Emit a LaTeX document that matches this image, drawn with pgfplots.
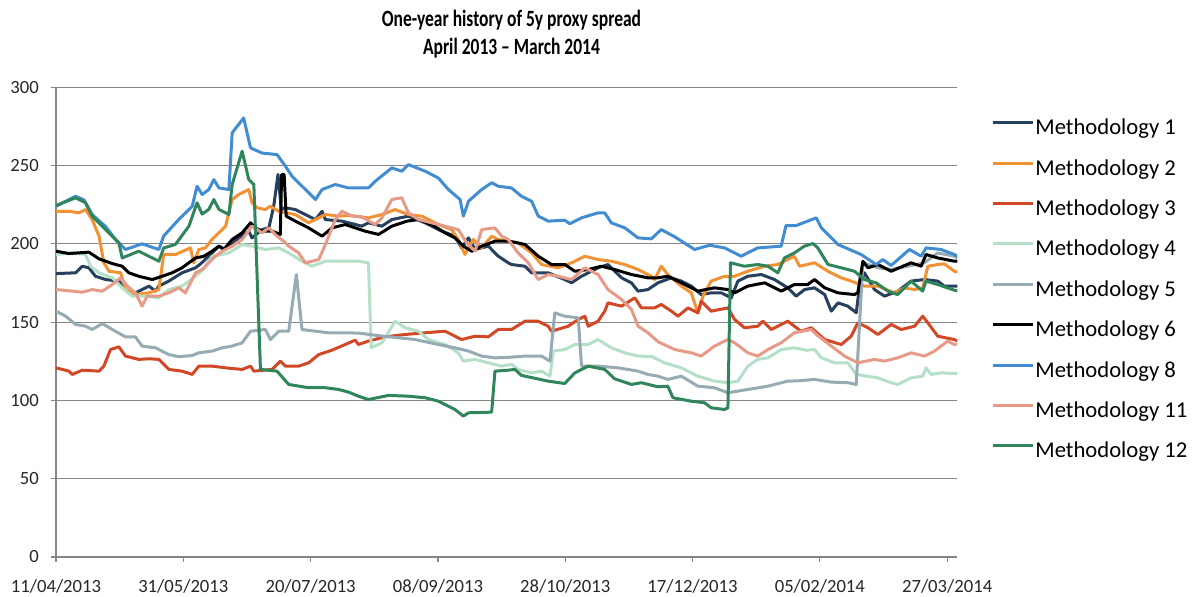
\documentclass[border=0pt]{standalone}
\usepackage{graphicx}
\usepackage{pgfplots}
\pgfplotsset{compat=1.18}
\usepackage{fontspec}
\setmainfont{Carlito}
\definecolor{cM1}{RGB}{38,64,94}
\definecolor{cM2}{RGB}{241,146,52}
\definecolor{cM3}{RGB}{209,72,38}
\definecolor{cM4}{RGB}{180,224,200}
\definecolor{cM5}{RGB}{151,171,181}
\definecolor{cM6}{RGB}{0,0,0}
\definecolor{cM8}{RGB}{66,140,210}
\definecolor{cM11}{RGB}{231,154,135}
\definecolor{cM12}{RGB}{49,133,90}
\definecolor{gridc}{RGB}{134,134,134}
\begin{document}
\begin{tikzpicture}
\useasboundingbox (-42pt,-29.25pt) rectangle (857.25pt,417.75pt);
\begin{axis}[
  at={(0pt,0pt)}, anchor=south west,
  scale only axis, width=676pt, height=352.3pt,
  xmin=0, xmax=354, ymin=0, ymax=300,
  axis x line*=bottom, axis y line*=left,
  axis line style={gridc, line width=0.9pt},
  xtick={0,50,100,150,200,250,300,350},
  xticklabels={11/04/2013,31/05/2013,20/07/2013,08/09/2013,28/10/2013,17/12/2013,05/02/2014,27/03/2014},
  ytick={0,50,100,150,200,250,300},
  ymajorgrids, major grid style={gridc, line width=0.9pt},
  tick align=outside, major tick length=4pt,
  tick style={gridc, line width=0.9pt},
  /pgf/number format/assume math mode=true,
  ticklabel style={font=\fontsize{14}{16}\selectfont, text=black!85},
  xticklabel style={anchor=base, yshift=-22.5pt, inner sep=0pt},
  yticklabel style={anchor=east, inner sep=0pt, xshift=-8.75pt},
  legend style={at={(1.0374,0.936)}, anchor=north west, draw=none, fill=none,
    inner sep=0pt, outer sep=0pt, row sep=13.3pt, column sep=1pt,
    font=\fontsize{17}{20}\selectfont,
    nodes={inner sep=0pt, text height=13pt, text depth=4pt}},
  legend cell align=left,
  legend image code/.code={\draw[#1, line width=2.25pt] (0pt,4.5pt) -- (30pt,4.5pt);},
  every axis plot/.append style={line width=2.25pt, line join=round, no markers},
]
\addplot[cM1] coordinates {(0,181) (7.7,181.5) (10.3,185.7) (12.9,184.7) (15.5,179.3) (19.5,177.2) (24.7,176.2) (27.3,170.8) (29.9,167.6) (33.8,170.8) (36.5,173) (39.1,169.8) (40.4,173) (44.3,176.2) (49.5,181.5) (54.8,184.7) (57,187.5) (60,192.1) (64,198.5) (66.6,196.4) (69.2,200.6) (71.8,203.8) (75.7,208.1) (77,203.8) (80.9,209.1) (83.6,210.2) (85.5,224) (87.2,244.3) (88.5,221.9) (90.1,223) (94,221.9) (97.9,218.7) (101.9,215.5) (104.5,220.8) (105.8,215.5) (112.3,214.5) (116,213) (120.1,211.3) (122.7,213.4) (128,211.3) (131.9,215.5) (138.4,217.7) (145,213.4) (151.5,208.1) (156.7,204.9) (159.3,197.4) (162,203.8) (164.6,196.4) (169.8,198.5) (173.7,192.1) (177.6,187.9) (178.9,186.8) (184.2,185.7) (186.8,181.5) (193.3,181.5) (199.8,177.2) (202.5,175.1) (206.4,179.3) (212.9,184.7) (216.8,186.8) (222.1,178.3) (226,175.1) (228.6,169.8) (232.5,170.8) (236.4,175.1) (241.7,178.3) (245.6,176.2) (249.5,173) (253.4,167.6) (257.3,168.7) (261.3,168.7) (265.2,165.5) (267.8,176.2) (271.7,179.3) (277,180.4) (282.2,177.2) (287.4,171.9) (290.7,166.6) (294,170.8) (297.9,171.9) (301.9,167.6) (304.5,157) (307.1,162.3) (311,160.2) (314.3,156) (315.6,173) (317.5,181.5) (321.5,170.8) (325.4,166.6) (330.6,169.8) (335.8,176.2) (341.1,177.2) (346.3,176.2) (348.9,173) (352.8,173) (354,173)};
\addlegendentry{Methodology 1}
\addplot[cM2] coordinates {(0,220.8) (5.1,220.8) (9,219.8) (11.6,221.9) (14.2,215.5) (16.9,204.9) (18.8,187.9) (20.8,182.5) (25.4,181.5) (27.3,170.8) (31.2,167.6) (36.5,168.7) (40.4,170.8) (42.3,193.2) (46.9,193.2) (52.8,197.4) (54.1,187.9) (56.1,196.4) (58.7,197.4) (61.3,202.8) (66.6,211.3) (69.2,228.3) (71.8,231.5) (75.7,234.7) (77,226.2) (79,223) (82.2,221.9) (84.2,224) (87.5,220.8) (94,218.7) (99.2,213.4) (105.8,218.7) (111,217.7) (114.9,218.1) (122.7,216.6) (128,218.7) (133.2,221.9) (138.4,218.7) (143.7,217.7) (150.2,212.3) (155.4,209.1) (158,202.8) (160.6,193.2) (163.9,202.8) (167.2,197.4) (171.1,204.9) (173.7,202.8) (181.5,200.6) (186.8,194.2) (190.7,186.8) (197.2,184.7) (202.5,187.9) (207.7,192.1) (212.9,190) (218.1,188.9) (223.4,186.8) (228.6,183.6) (233.8,179.3) (235.1,177.2) (237.7,185.7) (240.3,180.4) (245.6,173) (249.5,168.7) (252.1,155.9) (254.1,166.6) (257.3,176.2) (262.6,179.3) (266.5,179.3) (271.7,182.5) (278.3,185.7) (283.5,186.8) (287.4,190) (290,192.1) (292,185.7) (297.9,187.9) (303.2,182.5) (308.4,178.3) (312.3,176.2) (317.5,173) (322.8,173) (329.3,168.7) (333.2,171.9) (337.2,170.8) (340.4,171.9) (342.4,185.7) (346.3,186.8) (348.9,187.2) (352.8,182.5) (354,182)};
\addlegendentry{Methodology 2}
\addplot[cM3] coordinates {(0,120.8) (5.1,118.7) (6.4,116.6) (10.3,119.3) (16.9,118.7) (18.8,121.9) (21.4,132.5) (24.7,134.2) (27.3,128.3) (32.5,126.2) (36.5,126.6) (40.4,126.2) (44.3,119.8) (49.5,118.7) (53.5,116.6) (56.1,121.9) (61.3,121.9) (66.6,120.8) (73.1,119.8) (76.4,121.9) (77.7,118.7) (84.9,119.8) (88.1,125.1) (90.1,121.9) (95.3,121.9) (99.2,124) (103.2,129.3) (108.4,132.1) (113.6,135.7) (117.5,138.5) (118.8,135.7) (122.7,137.9) (129.3,140.6) (137.1,142.1) (145,143.2) (152.8,144.2) (159.3,138.9) (164.6,141) (169.8,140.6) (173.7,145.3) (178.9,145.3) (184.2,150.6) (189.4,150.6) (193.3,147.4) (194.6,144.2) (201.2,147.4) (205.1,151.7) (207.7,153.8) (209,147.4) (212.9,150.6) (215.5,157) (216.8,162.3) (222.1,160.2) (227.3,165.5) (229.9,159.1) (235.1,159.1) (237.7,161.3) (241.7,157) (244.3,153.8) (248.2,159.1) (252.1,155.9) (253.4,163.4) (257.3,157) (263.9,159.1) (266.5,151.7) (270.4,146.4) (275.6,147.4) (277.6,150.6) (280.9,145.3) (287.4,150.6) (292.6,144.2) (296.6,146.4) (301.9,138.9) (308.4,135.7) (312.3,141) (314.9,149.6) (318.9,146.4) (322.8,142.1) (328,148.5) (332,145.3) (337.2,147.4) (340.4,153.8) (342.4,149.6) (346.3,141) (352.8,138.9) (354,138)};
\addlegendentry{Methodology 3}
\addplot[cM4] coordinates {(0,193.2) (6.4,194.2) (11.6,193.2) (13.6,185.7) (16.9,181.5) (22.1,178.3) (26,171.9) (29.9,166.6) (35.2,166.6) (40.4,165.5) (44.3,170.8) (49.5,173) (54.8,179.3) (58,184) (61.3,192.1) (65.3,193.2) (67.9,194.2) (73.1,199.6) (77,198.5) (82.2,196.4) (87.5,197.4) (91.4,194.2) (96.6,188.9) (100.5,185.7) (105.8,188.9) (112.3,188.9) (118.8,188.9) (122.7,187.9) (123.8,133.6) (128,136.8) (133.2,150.6) (137.1,146.4) (142.3,144.2) (146.3,138.9) (152.8,135.7) (158,130.4) (160,125.1) (164.6,126.2) (169.8,124) (175,121.9) (178.9,123) (181.5,119.8) (186.8,117.6) (190.7,118.7) (194,115.5) (195.3,131.5) (199.8,132.5) (203.8,135.7) (209,135.7) (212.9,138.9) (218.1,133.6) (223.4,130.4) (228.6,128.3) (234,128) (239,124) (245.6,120.8) (252.1,115.5) (258.6,112.3) (263.9,111.3) (267.8,112.3) (271.7,121.9) (275.6,126.2) (279.6,127.2) (284.8,132.5) (290,133.6) (295,132) (297.9,132.5) (300.6,127.2) (305.8,124) (311,124) (314.3,116.6) (322.8,114.4) (328,111.3) (330.6,110.2) (335.8,114.4) (340.4,115.5) (341.7,120.8) (343.7,116.6) (347.6,117.6) (352.8,117.2) (354,117)};
\addlegendentry{Methodology 4}
\addplot[cM5] coordinates {(0,157) (3.8,153.8) (7.7,148.5) (11.6,147.4) (14.2,145.3) (18.2,149.1) (22.1,145.3) (27.3,140.6) (31.2,140.6) (33.8,134.7) (39.1,133.6) (44.3,129.3) (48.2,127.9) (53.5,128.7) (56.1,130.4) (61.3,131.5) (65.3,133.6) (69.2,134.7) (73.1,136.8) (76.4,144.2) (82.2,145.3) (84.2,138.9) (87.5,144.2) (91.4,144.2) (94.4,180.4) (96.6,145.3) (101.9,144.2) (107.1,143.2) (112.3,143.2) (118.8,143) (128,141.1) (141,138.9) (150.2,135.7) (156.7,133.6) (162,131.5) (167.2,128.3) (172.4,127.2) (177.6,127.5) (184.2,128.3) (190.7,128.3) (194,125.1) (195.9,155.9) (199.8,153.8) (205.1,152.7) (206.4,121.9) (212.9,121.9) (220.8,120.8) (228.6,118.7) (232.5,116.6) (236.4,115.5) (240.3,113.4) (245.6,115.5) (252.1,109.1) (258.6,108.1) (263.9,104.9) (271.7,107) (279.6,109.1) (287.4,112.3) (291.4,112.5) (297.9,113.4) (304.5,111.7) (311,111.3) (314.3,110.2) (316.9,187.9) (322.8,184.7) (328,183.6) (334.5,185.7) (341.1,187.9) (346.3,194.2) (352.8,192.1) (354,191)};
\addlegendentry{Methodology 5}
\addplot[cM6] coordinates {(0,195.3) (5.1,193.8) (12.9,194.7) (16.9,190.4) (22.1,187.4) (26,185.7) (28.6,181.5) (32.5,179.3) (37.8,177.2) (41.7,179.3) (45.6,181.5) (49.5,184.7) (54.8,191) (58,192) (61.3,195.3) (64,198.5) (65.9,196.4) (69.2,202.8) (73.1,207) (76.4,213.4) (78.3,210.2) (80.9,208.1) (84.9,208.1) (88.1,206) (88.6,244.3) (89.6,244.3) (90.4,217.7) (94,214.5) (99.2,210.2) (104.5,204.9) (108.4,210.2) (113.6,212.3) (116,211) (121.4,208.1) (126.7,206) (131.9,211.3) (137.8,214.5) (142.3,215.5) (147.6,212.3) (152.8,207) (156.7,203.8) (160,198.5) (163.3,195.3) (167.2,198.5) (172.4,201.7) (177.6,201.7) (180.2,201) (184.2,199.6) (189.4,192.1) (194.6,186.8) (199.8,186.8) (203.8,182.5) (209,183.6) (214.2,185.7) (219.4,183.6) (226,180.4) (232.5,178.3) (236.4,178.3) (240.3,179.3) (245.6,175.1) (252.1,169.8) (258.6,171.9) (263.9,170.8) (266.5,168.7) (271.7,173) (278.3,175.1) (284.8,169.8) (290,174) (295.2,174) (297.9,177.2) (301.9,171.9) (307.1,168.7) (313.6,167.6) (314.9,168.7) (316.9,188.9) (318.9,184.7) (322.8,186.8) (328,182.5) (335.8,187.9) (339.8,185.7) (341.7,193.2) (346.3,191) (352.8,188.9) (354,189)};
\addlegendentry{Methodology 6}
\addplot[cM8] coordinates {(0,224) (7.7,230.4) (11,228) (14.2,218.7) (19.5,211) (23.4,202.8) (27.3,196.4) (33.8,200) (40.4,196.4) (42.3,205) (48.2,215.5) (53.5,224) (55.4,236.8) (57.4,231.5) (60,234.7) (62,241) (64,235.7) (67.9,234.7) (69.2,270.9) (73.7,280.4) (76.4,261.3) (80.9,258) (86.8,257) (90.1,249.6) (92.7,243.2) (101.9,228.3) (104.5,234.7) (109.7,237.9) (114.9,235.7) (122.7,235.7) (125.4,240) (131.9,248.5) (135.8,246.4) (138.4,250.6) (145,246.4) (150.2,242) (154.1,234.7) (158.7,228.3) (160,217.7) (162,227.2) (167.2,234.7) (171.1,239) (173.7,236.8) (178.9,235.7) (182.8,230.4) (186.8,227.2) (189.4,217.7) (193.3,214.5) (199.8,215.1) (201.8,212.8) (206.4,216.6) (212.9,219.8) (215.5,219.8) (218.1,213.4) (223.4,210.2) (228.6,203.8) (233.8,203.2) (237.7,209.1) (243,204.5) (250.8,196.4) (256.7,199.1) (262.6,197.4) (269.1,192.1) (275.6,197.4) (284.8,198.5) (286.7,211.7) (290.7,211.7) (295.2,214.5) (298.6,216.6) (300.6,210.2) (307.1,199.6) (316.2,193.2) (322.1,186.8) (324.7,190) (328,186.2) (335.2,196.4) (339.8,192.1) (341.7,197.4) (347.6,196.4) (352.8,193.2) (354,192)};
\addlegendentry{Methodology 8}
\addplot[cM11] coordinates {(0,170.8) (6.4,169.8) (10.3,169.1) (14.2,170.8) (18.2,169.8) (22.1,174) (25.4,178.3) (28,173) (31.2,168.7) (33.8,160.2) (35.8,166.6) (40.4,166.6) (44.3,168.7) (48.2,171.9) (50.8,168.7) (54.8,181.5) (57.4,183.6) (60,187.9) (62.6,192.1) (65.3,195.3) (69.2,198.5) (73.1,202.8) (77,211.3) (80.9,207) (83.6,210.2) (86.8,204.9) (89.4,201.7) (91.4,198.5) (95.3,194.2) (97.9,187.9) (100.5,188.9) (103.2,190) (105.8,199.6) (109.7,215.5) (112.3,220.8) (116,218) (120.1,217.2) (125.4,212.3) (128,216.6) (131.9,228.3) (135.8,229.4) (138.4,219.8) (142.3,215.5) (147.6,213.4) (152.8,211.3) (158,209.1) (161.3,200.6) (164.6,195.3) (167.2,209.1) (172.4,210.2) (175,204.9) (177.6,202.8) (181.5,194.2) (185.5,187.9) (189.4,177.2) (193.3,180.4) (197.2,179.3) (202.5,177.2) (207.7,184.7) (212.9,180.4) (216.8,170.8) (222.1,164.5) (226,158.1) (228.6,147.4) (232.5,143.2) (236.4,137.5) (243,132.5) (249.5,130.4) (253.4,128.3) (258.6,134.7) (263.9,138.9) (266.5,136.8) (271.7,130.4) (275.6,128.3) (279.6,132.5) (284.8,136.8) (290,143.2) (296.6,145.3) (298.6,142.1) (304.5,134.7) (309.7,128.3) (314.9,124) (321.5,126.2) (325.4,125.1) (330.6,127.2) (335.8,130.4) (341.1,128.3) (345,131.5) (350.2,137.9) (352.8,135.7) (354,136)};
\addlegendentry{Methodology 11}
\addplot[cM12] coordinates {(0,224.5) (7.7,229.4) (11.6,226.2) (14.2,217.7) (20.1,208.1) (24.7,200.6) (26,191) (32.5,195.3) (40.4,188.9) (42.3,197.4) (46.9,199.6) (52.2,211.3) (55.4,226.2) (57.4,219) (60,222) (62,228.3) (64,222) (67.9,218.7) (69.2,237.9) (73.1,259.2) (75.7,241.1) (77.7,237.9) (80.3,119.8) (86.8,118.7) (91.4,110.2) (99.2,108.1) (105.8,108.1) (111,107) (114.9,105.3) (118.8,102.7) (122.7,100.6) (130.6,103.2) (138.4,102.7) (145,101.7) (150.2,99.5) (156.7,94.2) (160,90) (162,92.1) (171.1,92.5) (172.4,118.7) (177.6,119.3) (180.2,119.8) (182.8,116) (193.3,112.3) (199.8,110.8) (203.8,117.6) (209,121.9) (215.5,119.8) (219.4,113.8) (226,110.2) (229.9,111.3) (236.4,108.7) (240.3,109.1) (242.3,101.7) (249.5,99.5) (254.7,98.5) (257.3,95.3) (262.6,94.2) (263.9,95.3) (264.9,187.9) (270.4,185.7) (275.6,186.8) (279.6,185.7) (283.5,181.5) (286.1,191) (290,194.2) (293.9,198.5) (297.3,200.2) (299.2,197.4) (303.2,186.8) (308.4,184.7) (313.6,182.5) (317.5,177.2) (322.1,175.1) (326.7,169.8) (330.6,167.6) (335.8,176.2) (340.4,169.8) (341.7,176.2) (346.3,174) (352.8,170.4) (354,170)};
\addlegendentry{Methodology 12}
\end{axis}
\node[anchor=base, font=\bfseries\fontsize{17.5}{21}\selectfont] at (341.6pt,397.5pt) {\scalebox{0.75}[1]{One-year history of 5y proxy spread}};
\node[anchor=base, font=\bfseries\fontsize{17.5}{21}\selectfont] at (341.6pt,376.5pt) {\scalebox{0.75}[1]{April 2013 – March 2014}};
\end{tikzpicture}
\end{document}
